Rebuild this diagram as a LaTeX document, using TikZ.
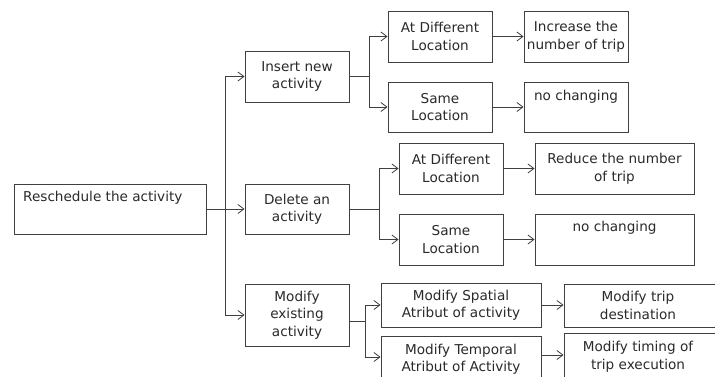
\documentclass[tikz,border=0pt]{standalone}
\usepackage{fontspec}
\setmainfont{DejaVu Sans}
\usetikzlibrary{arrows.meta,shadows,calc}
\definecolor{linec}{HTML}{404040}
\definecolor{textc}{HTML}{2A2A2A}
\begin{document}
\begin{tikzpicture}[x=1pt,y=-1pt,
  box/.style={draw=linec, fill=white, line width=0.9pt, align=center, inner sep=0pt, text=textc,
    font=\fontsize{13.6}{17.5}\selectfont,
    drop shadow={shadow xshift=1.2pt, shadow yshift=-1.2pt, fill=black!35, opacity=0.5}},
  sz/.style 2 args={minimum width=#1pt, minimum height=#2pt},
  lbl/.style={text=textc, font=\fontsize{13.6}{17.5}\selectfont, inner sep=0pt},
  conn/.style={draw=linec, line width=0.8pt},
  arr/.style={conn, -{Straight Barb[length=6pt,width=9pt]}}]
\clip (0,0) rectangle (715,376);
\fill[white] (0,0) rectangle (715,376);
% level 0
\node[box, sz={192}{50}] (r) at (110,209) {};
\node[lbl, anchor=west] (rt) at (23,198) {Reschedule the activity};
% level 1
\node[box, sz={104}{51}] (ins) at (297,76.5) {Insert new\\activity};
\node[box, sz={104}{50}] (del) at (297,209) {Delete an\\activity};
\node[box, sz={104}{62}] (mod) at (297,315) {Modify\\existing\\activity};
% level 2
\node[box, sz={104}{51}] (adl1) at (440,36.5) {At Different\\Location};
\node[box, sz={104}{50}] (sl1) at (440,107) {Same\\Location};
\node[box, sz={104}{51}] (adl2) at (451,168.5) {At Different\\Location};
\node[box, sz={104}{51}] (sl2) at (451,239.5) {Same\\Location};
\node[box, sz={160}{44}] (spat) at (461,305) {Modify Spatial\\Atribut of activity};
\node[box, sz={160}{46}] (temp) at (461,359) {Modify Temporal\\Atribut of Activity};
% level 3
\node[box, sz={104}{51}] (inc) at (576,36.5) {Increase the\\number of trip};
\node[box, sz={104}{50}] (nc1) at (576,107) {};
\node[lbl] (nc1t) at (576,97) {no changing};
\node[box, sz={159}{51}] (red) at (614.5,168.5) {Reduce the number\\of trip};
\node[box, sz={159}{51}] (nc2) at (614.5,239.5) {};
\node[lbl] (nc2t) at (614.5,228) {no changing};
\node[box, sz={176}{43}] (dest) at (652,305.5) {};
\node[lbl, align=center] (destt) at (638,305.5) {Modify trip\\destination};
\node[box, sz={176}{48}] (tim) at (652,357) {};
\node[lbl, align=center] (timt) at (638,356.5) {Modify timing of\\trip execution};
% junction coordinates
\coordinate (j0) at (225.7,209);
\coordinate (j1) at (369,76.5);
\coordinate (j2) at (379,209);
\coordinate (j3) at (365,321);
% connectors
\draw[arr] (r.east) -- (del.west);
\draw[arr] (j0) |- (ins.west);
\draw[arr] (j0) |- (mod.west);
\draw[conn] (ins.east) -- (j1);
\draw[arr] (j1) |- (adl1.west);
\draw[arr] (j1) |- (sl1.west);
\draw[conn] (del.east) -- (j2);
\draw[arr] (j2) |- (adl2.west);
\draw[arr] (j2) |- (sl2.west);
\draw[conn] ([yshift=-6pt]mod.east) -- (j3);
\draw[arr] (j3) |- (spat.west);
\draw[arr] (j3) |- ([yshift=2pt]temp.west);
\draw[arr] (adl1.east) -- (inc.west);
\draw[arr] (sl1.east) -- (nc1.west);
\draw[arr] (adl2.east) -- (red.west);
\draw[arr] (sl2.east) -- (nc2.west);
\draw[arr] (spat.east) -- (spat.east -| dest.west);
\draw[arr] ([yshift=4pt]temp.east) -- ([yshift=4pt]temp.east -| tim.west);
\end{tikzpicture}
\end{document}
